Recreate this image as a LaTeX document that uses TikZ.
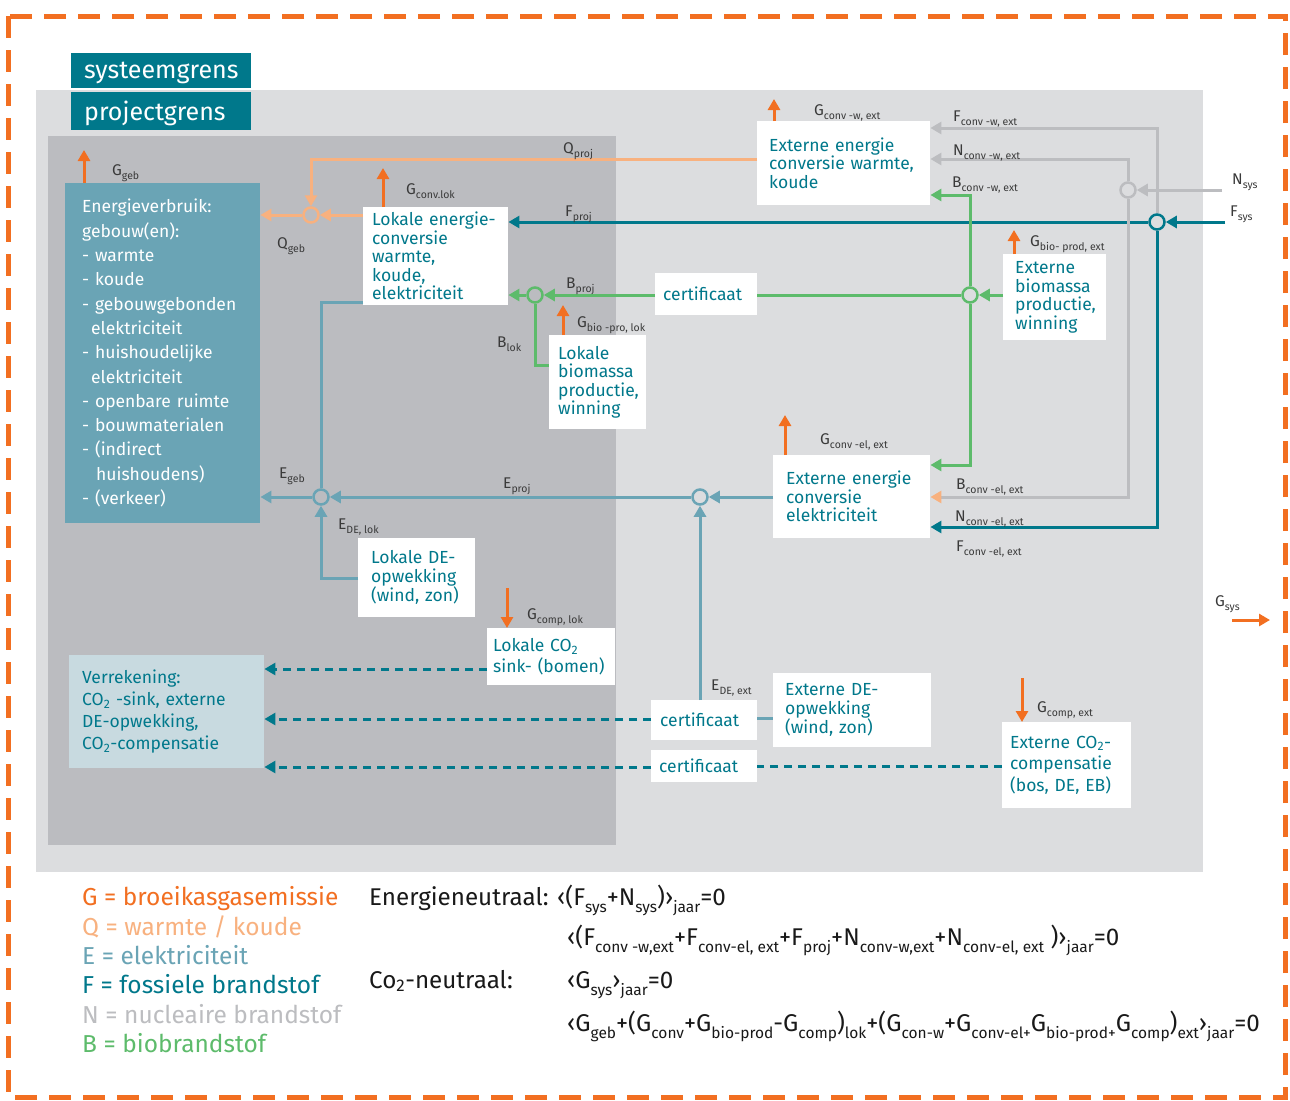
\documentclass[tikz,border=0pt]{standalone}
\usepackage{fontspec}
\setmainfont{Fira Sans}
\usetikzlibrary{arrows.meta}
\definecolor{gorange}{HTML}{F26F21}
\definecolor{qorange}{HTML}{F8B17F}
\definecolor{eblue}{HTML}{6AA4B5}
\definecolor{fteal}{HTML}{00788B}
\definecolor{ngrey}{HTML}{BCBDC0}
\definecolor{bgreen}{HTML}{5DBB6B}
\definecolor{sysgrey}{HTML}{DCDDDF}
\definecolor{projgrey}{HTML}{BBBCC0}
\definecolor{verrekfill}{HTML}{C8DAE0}
\definecolor{lbltext}{HTML}{3A3A3A}
\newcommand{\ls}[1]{\raisebox{-0.5ex}{\fontsize{10.5}{11}\selectfont#1}}
\newcommand{\es}[1]{\raisebox{-0.55ex}{\fontsize{15.5}{15}\selectfont#1}}

\begin{document}
\begin{tikzpicture}[x=1pt,y=-1pt,
    tip/.style={-{Triangle[length=11pt,width=12pt]}},
    flow/.style={line width=3pt},
    gar/.style={flow,gorange,tip},
    qln/.style={flow,qorange},
    eln/.style={flow,eblue},
    fln/.style={flow,fteal},
    nln/.style={flow,ngrey},
    bln/.style={flow,bgreen},
    dln/.style={flow,fteal,dash pattern=on 8pt off 6pt,tip},
    circ/.style={circle,line width=2.5pt,minimum size=15pt,inner sep=0pt},
    wb/.style={fill=white,anchor=north west,inner ysep=0pt,align=left,text=fteal,
      font=\fontsize{17.5}{18.5}\selectfont,execute at begin node={\hyphenpenalty=10000}},
    lbl/.style={anchor=base west,inner sep=0pt,text=lbltext,font=\fontsize{15.5}{16}\selectfont},
    grens/.style={fill=fteal,text=white,anchor=north west,inner sep=0pt,text depth=0pt,
      font=\fontsize{25}{26}\selectfont,minimum height=35pt,text width=180pt,align=left},
    leg/.style={anchor=base west,inner sep=0pt,font=\fontsize{24.5}{26}\selectfont},
    eq/.style={anchor=base west,inner sep=0pt,text=black!90,font=\fontsize{24.2}{26}\selectfont}]
  \useasboundingbox (0,0) rectangle (1290,1100);
  \fill[white] (0,0) rectangle (1290,1100);
  \fill[sysgrey] (36,90) rectangle (1203,872);
  \fill[projgrey] (48,136) rectangle (616,845);
  \draw[gorange,line width=5pt,dash pattern=on 22pt off 12pt] (8,16) rectangle (1285,1097);

  \node[grens] (sg) at (71,53) {\hspace*{13pt}systeemgrens};
  \node[grens,minimum height=38pt] (pg) at (71,92) {\hspace*{13pt}projectgrens};

  \node[fill=eblue,text=white,anchor=north west,inner xsep=17pt,inner ysep=0pt,text width=161pt,
    minimum height=340pt,align=left,font=\fontsize{17.5}{24.3}\selectfont] (verbruik) at (65,183)
    {Energieverbruik:\\gebouw(en):\\- warmte\\- koude\\- gebouwgebonden\\\hspace*{9pt}elektriciteit\\
     - huishoudelijke\\\hspace*{9pt}elektriciteit\\- openbare ruimte\\- bouwmaterialen\\- (indirect\\
     \hspace*{14pt}huishoudens)\\- (verkeer)};
  \node[fill=verrekfill,text=fteal,anchor=north west,inner xsep=13pt,inner ysep=0pt,text width=169pt,
    minimum height=113pt,align=left,font=\fontsize{17.5}{22}\selectfont] (verrek) at (69,655)
    {Verrekening:\\CO\textsubscript{2} -sink, externe\\DE-opwekking,\\CO\textsubscript{2}-compensatie};

  \node[wb,inner xsep=12pt,text width=149pt,minimum height=84pt] (extw) at (757,121)
    {Externe energie\\conversie warmte,\\koude};
  \node[wb,inner xsep=9pt,text width=127pt,minimum height=98pt] (lokconv) at (363,207)
    {Lokale energie-\\conversie\\warmte,\\koude,\\elektriciteit};
  \node[wb,inner xsep=8pt,text width=86pt,minimum height=42pt] (certB) at (655,273) {certificaat};
  \node[wb,inner xsep=12pt,text width=79pt,minimum height=86pt] (extbio) at (1003,254)
    {Externe\\biomassa\\productie,\\winning};
  \node[wb,inner xsep=9pt,text width=79pt,minimum height=94pt] (lokbio) at (549,335)
    {Lokale\\biomassa\\productie,\\winning};
  \node[wb,inner xsep=13pt,text width=131pt,minimum height=83pt] (extel) at (773,455)
    {Externe energie\\conversie\\elektriciteit};
  \node[wb,inner xsep=13pt,text width=91pt,minimum height=79pt] (lokde) at (358,538)
    {Lokale DE-\\opwekking\\(wind, zon)};
  \node[wb,inner xsep=6pt,text width=116pt,minimum height=57pt,
    font=\fontsize{17.5}{21}\selectfont] (lokco2) at (487,628)
    {Lokale CO\textsubscript{2}\\sink- (bomen)};
  \node[wb,inner xsep=9pt,text width=88pt,minimum height=40pt] (certE) at (651,700) {certificaat};
  \node[wb,inner xsep=12pt,text width=134pt,minimum height=74pt] (extde) at (773,673)
    {Externe DE-\\opwekking\\(wind, zon)};
  \node[wb,inner xsep=8pt,text width=90pt,minimum height=32pt] (certD) at (651,750) {certificaat};
  \node[wb,inner xsep=8pt,text width=113pt,minimum height=86pt,
    font=\fontsize{17.5}{21.5}\selectfont] (extco2) at (1002,722)
    {Externe CO\textsubscript{2}-\\compensatie\\(bos, DE, EB)};

  \node[circ,draw=qorange,fill=projgrey] (qc) at (311,215) {};
  \node[circ,draw=bgreen,fill=projgrey] (bc1) at (535,295) {};
  \node[circ,draw=bgreen,fill=sysgrey] (bc2) at (970,295) {};
  \node[circ,draw=ngrey,fill=sysgrey] (nc) at (1128,190) {};
  \node[circ,draw=fteal,fill=sysgrey] (fc) at (1157,222) {};
  \node[circ,draw=eblue,fill=projgrey] (ec1) at (321,497) {};
  \node[circ,draw=eblue,fill=sysgrey] (ec2) at (700,497) {};

  \coordinate (qk) at (311,159);
  \draw[qln,tip] (extw.west |- qk) -- (qk) -- (qc);
  \draw[qln,tip] (lokconv.west |- qc) -- (qc);
  \draw[qln,tip] (qc) -- (verbruik.east |- qc);

  \coordinate (fsys) at (1225,222);
  \coordinate (fw) at (1157,128);
  \coordinate (fel) at (1157,527);
  \draw[fln,tip] (fsys) -- (fc);
  \draw[fln,tip] (fc) -- (lokconv.east |- fc);
  \draw[fln,tip] (fc) -- (fel) -- (extel.east |- fel);
  \draw[nln,tip] (fc) -- (fw) -- (extw.east |- fw);

  \coordinate (nsys) at (1222,190);
  \coordinate (nw) at (1128,159);
  \coordinate (nel) at (1128,497);
  \draw[nln,tip] (nsys) -- (nc);
  \draw[nln,tip] (nc) -- (nw) -- (extw.east |- nw);
  \draw[nln,-{Triangle[length=11pt,width=12pt,color=qorange]}] (nc) -- (nel) -- (extel.east |- nel);

  \coordinate (bw) at (970,195);
  \coordinate (bel) at (970,465);
  \coordinate (bl) at (535,365);
  \draw[bln,tip] (extbio.west |- bc2) -- (bc2);
  \draw[bln,tip] (bc2) -- (bw) -- (extw.east |- bw);
  \draw[bln,tip] (bc2) -- (bel) -- (extel.east |- bel);
  \draw[bln] (bc2) -- (certB.east |- bc2);
  \draw[bln,tip] (certB.west |- bc1) -- (bc1);
  \draw[bln,tip] (bc1) -- (lokconv.east |- bc1);
  \draw[bln] (bc1) -- (bl) -- (lokbio.west |- bl);

  \coordinate (ek) at (321,302);
  \coordinate (edl) at (321,578);
  \draw[eln] (lokconv.west |- ek) -- (ek) -- (ec1);
  \draw[eln,tip] (extel.west |- ec2) -- (ec2);
  \draw[eln,tip] (ec2) -- (ec1);
  \draw[eln,tip] (ec1) -- (verbruik.east |- ec1);
  \draw[eln,tip] (lokde.west |- edl) -- (edl) -- (ec1);
  \draw[eln,tip] (ec2 |- certE.north) -- (ec2);
  \draw[eln] (certE.east |- 0,718) -- (extde.west |- 0,718);

  \coordinate (dk) at (487,669);
  \draw[dln] (dk) -- (verrek.east |- dk);
  \draw[dln] (certE.west |- 0,719) -- (verrek.east |- 0,719);
  \draw[flow,fteal,dash pattern=on 8pt off 6pt] (extco2.west |- certD) -- (certD.east);
  \draw[dln] (certD.west |- 0,767) -- (verrek.east |- 0,767);

  \coordinate (ggeb) at (84,150);
  \coordinate (gcl) at (383,168);
  \coordinate (gcw) at (774,99);
  \coordinate (gbe) at (1014,230);
  \coordinate (gbl) at (563,305);
  \coordinate (gce) at (785,415);
  \coordinate (gkl) at (507,588);
  \coordinate (gke) at (1022,678);
  \coordinate (gs1) at (1232,620);
  \coordinate (gs2) at (1270,620);
  \draw[gar] (ggeb |- verbruik.north) -- (ggeb);
  \draw[gar] (gcl |- lokconv.north) -- (gcl);
  \draw[gar] (gcw |- extw.north) -- (gcw);
  \draw[gar] (gbe |- extbio.north) -- (gbe);
  \draw[gar] (gbl |- lokbio.north) -- (gbl);
  \draw[gar] (gce |- extel.north) -- (gce);
  \draw[gar] (gkl) -- (gkl |- lokco2.north);
  \draw[gar] (gke) -- (gke |- extco2.north);
  \draw[gar] (gs1) -- (gs2);

  \node[lbl] at (112,175) {G\ls{geb}};
  \node[lbl] at (563,153) {Q\ls{proj}};
  \node[lbl] at (406,194) {G\ls{conv.lok}};
  \node[lbl] at (277,248) {Q\ls{geb}};
  \node[lbl] at (565,216) {F\ls{proj}};
  \node[lbl] at (566,288) {B\ls{proj}};
  \node[lbl] at (577,327) {G\ls{bio -pro, lok}};
  \node[lbl] at (497,347) {B\ls{lok}};
  \node[lbl] at (279,478) {E\ls{geb}};
  \node[lbl] at (503,488) {E\ls{proj}};
  \node[lbl] at (338,529) {E\ls{DE, lok}};
  \node[lbl] at (527,619) {G\ls{comp, lok}};
  \node[lbl] at (814,115) {G\ls{conv -w, ext}};
  \node[lbl] at (953,121) {F\ls{conv -w, ext}};
  \node[lbl] at (953,155) {N\ls{conv -w, ext}};
  \node[lbl] at (952,187) {B\ls{conv -w, ext}};
  \node[lbl] at (1232,184) {N\ls{sys}};
  \node[lbl] at (1230,216) {F\ls{sys}};
  \node[lbl] at (1030,246) {G\ls{bio- prod, ext}};
  \node[lbl] at (820,444) {G\ls{conv -el, ext}};
  \node[lbl] at (956,489) {B\ls{conv -el, ext}};
  \node[lbl] at (955,521) {N\ls{conv -el, ext}};
  \node[lbl] at (956,551) {F\ls{conv -el, ext}};
  \node[lbl] at (1215,606) {G\ls{sys}};
  \node[lbl] at (711,690) {E\ls{DE, ext}};
  \node[lbl] at (1037,712) {G\ls{comp, ext}};

  \node[leg,text=gorange] at (82,905) {G = broeikasgasemissie};
  \node[leg,text=qorange] at (82,935) {Q = warmte / koude};
  \node[leg,text=eblue] at (82,964) {E = elektriciteit};
  \node[leg,text=fteal] at (82,993) {F = fossiele brandstof};
  \node[leg,text=ngrey] at (82,1023) {N = nucleaire brandstof};
  \node[leg,text=bgreen] at (82,1052) {B = biobrandstof};

  \node[eq] at (369,905) {Energieneutraal: ‹(F\es{sys}+N\es{sys})›\es{jaar}=0};
  \node[eq] at (567,945) {‹(F\es{conv -w,ext}+F\es{conv-el, ext}+F\es{proj}+N\es{conv-w,ext}+N\es{conv-el, ext} )›\es{jaar}=0};
  \node[eq] at (369,988) {Co\textsubscript{2}-neutraal:};
  \node[eq] at (567,988) {‹G\es{sys}›\es{jaar}=0};
  \node[eq] at (567,1031) {‹G\es{geb}+(G\es{conv}+G\es{bio-prod}-G\es{comp})\es{lok}+(G\es{con-w}+G\es{conv-el+}G\es{bio-prod+}G\es{comp})\es{ext}›\es{jaar}=0};
\end{tikzpicture}
\end{document}
